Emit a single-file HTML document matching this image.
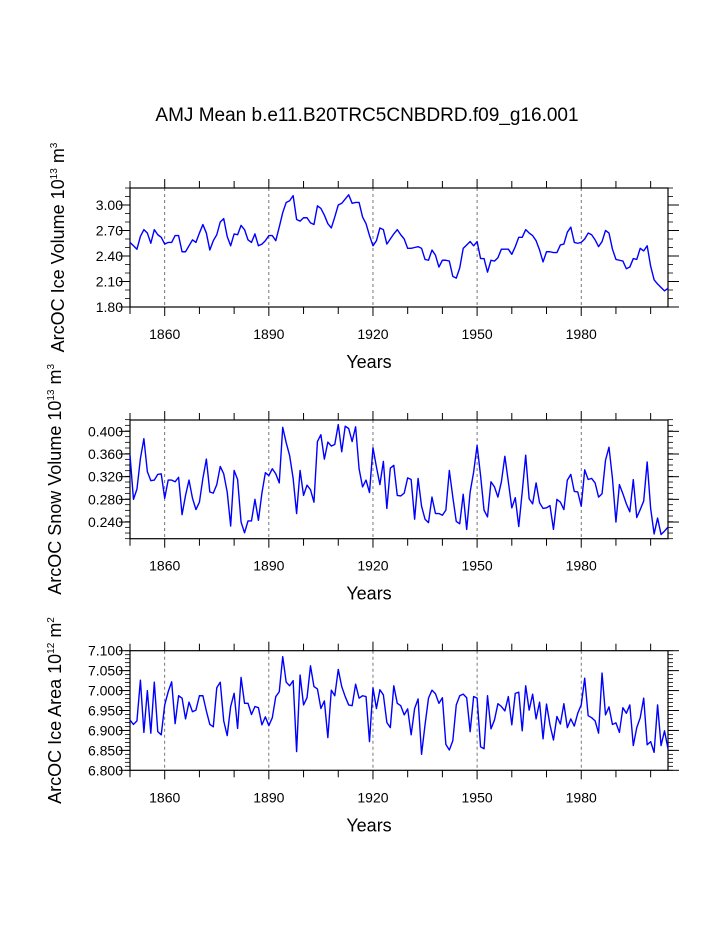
<!DOCTYPE html>
<html><head><meta charset="utf-8"><style>
html,body{margin:0;padding:0;background:#fff}
svg{display:block;font-family:"Liberation Sans",Arial,sans-serif}
</style></head><body>
<svg id="fig" width="723" height="935" viewBox="0 0 723 935">
<text x="367" y="121" text-anchor="middle" font-size="19">AMJ Mean b.e11.B20TRC5CNBDRD.f09_g16.001</text>
</svg>
<script>
const startYear = 1850;
const iceVolume = [2.56,2.52,2.48,2.63,2.71,2.67,2.55,2.71,2.65,2.62,
2.54,2.56,2.56,2.64,2.64,2.45,2.45,2.52,2.59,2.56,
2.67,2.77,2.67,2.47,2.58,2.65,2.80,2.84,2.63,2.52,
2.66,2.65,2.76,2.71,2.59,2.56,2.66,2.52,2.54,2.58,
2.64,2.64,2.58,2.74,2.91,3.03,3.05,3.11,2.83,2.81,
2.85,2.85,2.79,2.77,2.99,2.96,2.88,2.78,2.73,2.86,
3.00,3.02,3.07,3.12,3.02,3.03,3.03,2.86,2.78,2.64,
2.52,2.58,2.73,2.71,2.54,2.60,2.66,2.71,2.65,2.60,
2.49,2.49,2.50,2.51,2.49,2.36,2.35,2.47,2.41,2.27,
2.35,2.35,2.34,2.16,2.14,2.26,2.49,2.53,2.57,2.52,
2.57,2.37,2.37,2.21,2.35,2.34,2.38,2.48,2.48,2.48,
2.42,2.51,2.62,2.62,2.71,2.67,2.64,2.58,2.47,2.33,
2.45,2.45,2.44,2.44,2.53,2.54,2.68,2.74,2.56,2.55,
2.56,2.60,2.67,2.65,2.59,2.51,2.57,2.70,2.67,2.48,
2.36,2.35,2.34,2.25,2.27,2.37,2.36,2.49,2.46,2.52,
2.28,2.12,2.07,2.03,1.99,2.02];
const snowVolume = [0.358,0.280,0.298,0.352,0.387,0.329,0.313,0.314,0.324,0.325,
0.282,0.314,0.314,0.311,0.319,0.253,0.287,0.314,0.282,0.262,
0.275,0.317,0.351,0.293,0.291,0.306,0.338,0.325,0.293,0.233,
0.331,0.315,0.240,0.221,0.242,0.242,0.280,0.243,0.291,0.327,
0.322,0.334,0.325,0.309,0.407,0.380,0.357,0.317,0.255,0.331,
0.287,0.305,0.297,0.275,0.382,0.394,0.351,0.381,0.374,0.377,
0.412,0.364,0.409,0.405,0.382,0.408,0.334,0.302,0.314,0.292,
0.371,0.337,0.306,0.347,0.264,0.335,0.340,0.287,0.286,0.291,
0.318,0.315,0.245,0.317,0.268,0.245,0.239,0.284,0.255,0.255,
0.252,0.261,0.331,0.284,0.241,0.237,0.289,0.227,0.293,0.328,
0.375,0.322,0.261,0.249,0.311,0.302,0.284,0.311,0.356,0.311,
0.265,0.283,0.232,0.293,0.358,0.281,0.272,0.309,0.274,0.264,
0.265,0.269,0.227,0.280,0.275,0.262,0.314,0.324,0.294,0.293,
0.268,0.332,0.315,0.317,0.309,0.284,0.290,0.349,0.372,0.317,
0.240,0.306,0.290,0.272,0.258,0.315,0.248,0.262,0.277,0.346,
0.264,0.219,0.247,0.218,0.224,0.231];
const iceArea = [6.926,6.915,6.924,7.026,6.895,7.000,6.893,7.021,6.897,6.889,
6.964,6.997,7.022,6.917,6.987,6.981,6.929,6.971,6.947,6.951,
6.987,6.987,6.949,6.915,6.909,7.007,7.021,6.924,6.887,6.960,
6.993,6.905,7.033,6.968,6.968,6.940,6.960,6.957,6.914,6.934,
6.912,6.932,6.985,6.997,7.085,7.021,7.012,7.025,6.847,7.039,
6.964,6.982,7.062,7.010,7.004,6.955,6.974,6.882,7.001,6.987,
7.053,7.010,6.985,6.964,6.962,7.016,6.981,6.987,6.985,6.872,
7.007,6.955,7.002,6.989,6.920,6.907,7.012,6.968,6.962,6.939,
6.954,6.889,6.955,6.979,6.840,6.914,6.981,7.001,6.992,6.968,
6.982,6.865,6.851,6.874,6.964,6.987,6.991,6.982,6.897,6.985,
6.981,6.859,6.854,6.987,6.904,6.926,6.967,6.960,6.949,6.985,
6.914,6.993,6.996,6.899,7.012,6.951,6.991,6.929,6.971,6.879,
6.966,6.914,6.876,6.935,6.916,6.967,6.907,6.929,6.911,6.943,
6.964,7.031,6.937,6.932,6.924,6.893,7.044,6.939,6.959,6.915,
6.919,6.895,6.957,6.943,6.964,6.862,6.907,6.932,6.981,6.864,
6.872,6.845,6.964,6.862,6.899,6.854];
const xTickLabels = [1860,1890,1920,1950,1980];
const volTicks = ["1.80","2.10","2.40","2.70","3.00"];
const snowTicks = ["0.240","0.280","0.320","0.360","0.400"];
const areaTicks = ["6.800","6.850","6.900","6.950","7.000","7.050","7.100"];

const NS="http://www.w3.org/2000/svg";
const svg=document.getElementById('fig');
function mk(tag,attrs,parent){const e=document.createElementNS(NS,tag);for(const k in attrs)e.setAttribute(k,attrs[k]);(parent||svg).appendChild(e);return e;}

function panel(cfg){
  const L=130,R=668,T=cfg.top,B=cfg.bottom;
  const x0=1850,x1=2005;
  const sx=y=>L+(y-x0)/(x1-x0)*(R-L);
  const sy=v=>B-(v-cfg.ymin)/(cfg.ymax-cfg.ymin)*(B-T);
  const g=mk('g',{});
  
  
  xTickLabels.forEach(yr=>{
    const l=mk('line',{x1:sx(yr),x2:sx(yr),y1:T,y2:B,stroke:'#555','stroke-width':0.8,'stroke-dasharray':'3,3'},g);
    
    
  });
  for(let yr=1850;yr<=2005;yr+=10){
    const len=xTickLabels.includes(yr)?9:7;
    mk('line',{x1:sx(yr),x2:sx(yr),y1:B,y2:B+len,stroke:'#000','stroke-width':1},g);
    mk('line',{x1:sx(yr),x2:sx(yr),y1:T,y2:T-len,stroke:'#000','stroke-width':1},g);
  }
  xTickLabels.forEach(yr=>{
    const t=mk('text',{x:sx(yr),y:B+32,'text-anchor':'middle','font-size':14},g);
    t.textContent=yr;
    
    
  });
  const nmin=Math.round((cfg.ymax-cfg.ymin)/cfg.minor);
  for(let i=0;i<=nmin;i++){
    const v=cfg.ymin+i*cfg.minor;
    mk('line',{x1:L,x2:L-5,y1:sy(v),y2:sy(v),stroke:'#000','stroke-width':0.8},g);
    mk('line',{x1:R,x2:R+5,y1:sy(v),y2:sy(v),stroke:'#000','stroke-width':0.8},g);
  }
  cfg.ticks.forEach(s=>{
    const v=parseFloat(s);
    mk('line',{x1:L,x2:L-11,y1:sy(v),y2:sy(v),stroke:'#000','stroke-width':1},g);
    mk('line',{x1:R,x2:R+11,y1:sy(v),y2:sy(v),stroke:'#000','stroke-width':1},g);
    const t=mk('text',{x:L-7,y:sy(v)+5,'text-anchor':'end','font-size':14},g);
    t.textContent=s;
    
    
  });
  mk('rect',{x:L,y:T,width:R-L,height:B-T,fill:'none',stroke:'#000','stroke-width':1.2},g);
  const pts=cfg.data.map((v,i)=>sx(startYear+i).toFixed(2)+','+sy(v).toFixed(2)).join(' ');
  const pl=mk('polyline',{points:pts,fill:'none',stroke:'#0000ff','stroke-width':1.4,'stroke-linejoin':'round'},g);
  
  
  const xt=mk('text',{x:(L+R)/2-30,y:B+61,'text-anchor':'middle','font-size':18},g);
  xt.textContent='Years';
  
  
  const yt=mk('text',{transform:`translate(${cfg.ytx},${(T+B)/2}) rotate(-90)`,'text-anchor':'middle','font-size':18},g);
  yt.innerHTML=cfg.ytitle;
  
  
}
panel({name:'ice-volume-panel',top:188,bottom:307,ymin:1.8,ymax:3.2,minor:0.1,ticks:volTicks,data:iceVolume,ytx:64,
  ytitle:'ArcOC Ice Volume 10<tspan font-size="10" dy="-7">13</tspan><tspan dy="7"> m</tspan><tspan font-size="10" dy="-7">3</tspan>'});
panel({name:'snow-volume-panel',top:420,bottom:538.7,ymin:0.2106,ymax:0.42,minor:0.01,ticks:snowTicks,data:snowVolume,ytx:61,
  ytitle:'ArcOC Snow Volume 10<tspan font-size="10" dy="-7">13</tspan><tspan dy="7"> m</tspan><tspan font-size="10" dy="-7">3</tspan>'});
panel({name:'ice-area-panel',top:650.7,bottom:770.3,ymin:6.8,ymax:7.1,minor:0.01,ticks:areaTicks,data:iceArea,ytx:61,
  ytitle:'ArcOC Ice Area 10<tspan font-size="10" dy="-7">12</tspan><tspan dy="7"> m</tspan><tspan font-size="10" dy="-7">2</tspan>'});
</script>
</body></html>
